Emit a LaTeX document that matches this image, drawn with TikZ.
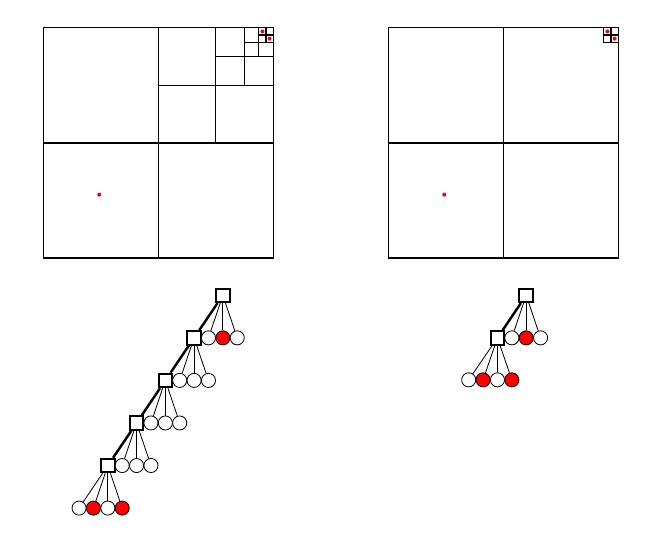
\documentclass[tikz,border=0pt]{standalone}
\begin{document}
\begin{tikzpicture}[x=0.5cm,y=0.5cm,
    cell/.style={draw, line width=1pt, fill=white, minimum size=0.235cm, inner sep=0pt},
    leaf/.style={draw, circle, fill=white, minimum size=0.245cm, inner sep=0pt},
    hit/.style={leaf, fill=red},
    spine/.style={line width=1.2pt}]
    \useasboundingbox (-1.5,-10.09) rectangle (21.21,8.97);
    % left quadtree
    \draw[semithick] (0,0) rectangle (8,8);
    \draw[semithick] (4,0) -- (4,8);% first split
    \draw[semithick] (0,4) -- (8,4);% first split
    \draw[semithick] (6,4) -- (6,8);% second split
    \draw[semithick] (4,6) -- (8,6);% second split
    \draw[semithick] (7,6) -- (7,8);% third split
    \draw[semithick] (6,7) -- (8,7);% third split
    \draw[semithick] (7.5,7) -- (7.5,8);% fourth split
    \draw[semithick] (7,7.5) -- (8,7.5);% fourth split
    \draw[semithick] (7.75,7.5) -- (7.75,8);% fifth split
    \draw[semithick] (7.5,7.75) -- (8,7.75);% fifth split
    \fill[red] (1.95,2.2) circle (0.07);
    \fill[red] (7.625,7.875) circle (0.07);
    \fill[red] (7.875,7.625) circle (0.07);
    % right quadtree
    \draw[semithick] (12,0) rectangle (20,8);
    \draw[semithick] (16,0) -- (16,8);% first split
    \draw[semithick] (12,4) -- (20,4);% first split
    \draw[semithick] (19.5,7.5) rectangle (20,8);% small cell
    \draw[semithick] (19.75,7.5) -- (19.75,8);% small cell split
    \draw[semithick] (19.5,7.75) -- (20,7.75);% small cell split
    \fill[red] (13.95,2.2) circle (0.07);
    \fill[red] (19.625,7.875) circle (0.07);
    \fill[red] (19.875,7.625) circle (0.07);
    % left tree
    \node[cell] (p0) at (6.25,-1.3) {};
    \node[cell] (p1) at (5.25,-2.78) {};% first level
    \node[leaf] (q1b) at (5.75,-2.78) {};
    \node[hit] (q1c) at (6.25,-2.78) {};
    \node[leaf] (q1d) at (6.75,-2.78) {};
    \node[cell] (p2) at (4.25,-4.26) {};% second level
    \node[leaf] (q2b) at (4.75,-4.26) {};
    \node[leaf] (q2c) at (5.25,-4.26) {};
    \node[leaf] (q2d) at (5.75,-4.26) {};
    \node[cell] (p3) at (3.25,-5.74) {};% third level
    \node[leaf] (q3b) at (3.75,-5.74) {};
    \node[leaf] (q3c) at (4.25,-5.74) {};
    \node[leaf] (q3d) at (4.75,-5.74) {};
    \node[cell] (p4) at (2.25,-7.22) {};% fourth level
    \node[leaf] (q4b) at (2.75,-7.22) {};
    \node[leaf] (q4c) at (3.25,-7.22) {};
    \node[leaf] (q4d) at (3.75,-7.22) {};
    \node[leaf] (q5a) at (1.25,-8.7) {};% fifth level
    \node[hit] (q5b) at (1.75,-8.7) {};
    \node[leaf] (q5c) at (2.25,-8.7) {};
    \node[hit] (q5d) at (2.75,-8.7) {};
    \draw[spine] (p0) -- (p1);
    \draw (p0) -- (q1b); \draw (p0) -- (q1c); \draw (p0) -- (q1d);
    \draw[spine] (p1) -- (p2);
    \draw (p1) -- (q2b); \draw (p1) -- (q2c); \draw (p1) -- (q2d);
    \draw[spine] (p2) -- (p3);
    \draw (p2) -- (q3b); \draw (p2) -- (q3c); \draw (p2) -- (q3d);
    \draw[spine] (p3) -- (p4);
    \draw (p3) -- (q4b); \draw (p3) -- (q4c); \draw (p3) -- (q4d);
    \draw (p4) -- (q5a); \draw (p4) -- (q5b); \draw (p4) -- (q5c); \draw (p4) -- (q5d);
    % right tree
    \node[cell] (r0) at (16.8,-1.3) {};
    \node[cell] (r1) at (15.8,-2.78) {};% first level
    \node[leaf] (s1b) at (16.3,-2.78) {};
    \node[hit] (s1c) at (16.8,-2.78) {};
    \node[leaf] (s1d) at (17.3,-2.78) {};
    \node[leaf] (s2a) at (14.8,-4.24) {};% second level
    \node[hit] (s2b) at (15.3,-4.24) {};
    \node[leaf] (s2c) at (15.8,-4.24) {};
    \node[hit] (s2d) at (16.3,-4.24) {};
    \draw[spine] (r0) -- (r1);
    \draw (r0) -- (s1b); \draw (r0) -- (s1c); \draw (r0) -- (s1d);
    \draw (r1) -- (s2a); \draw (r1) -- (s2b); \draw (r1) -- (s2c); \draw (r1) -- (s2d);
\end{tikzpicture}
\end{document}
